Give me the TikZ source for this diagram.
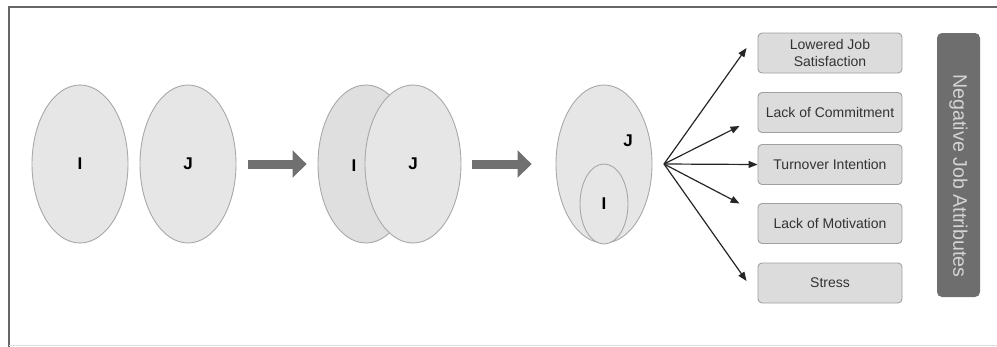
\documentclass[tikz,border=0pt]{standalone}
\usepackage{fontspec}
\setmainfont{Liberation Sans}
\usetikzlibrary{shapes.geometric,arrows.meta}
\definecolor{ellfill}{HTML}{E6E6E6}
\definecolor{ellfilldark}{HTML}{DFDFDF}
\definecolor{ellline}{HTML}{A8A8A8}
\definecolor{boxfill}{HTML}{DCDCDC}
\definecolor{boxline}{HTML}{A0A0A0}
\definecolor{fatgray}{HTML}{707070}
\definecolor{darkbar}{HTML}{6E6E6E}
\definecolor{bartext}{HTML}{D4D4D4}
\definecolor{frameline}{HTML}{666666}
\tikzset{
  bigell/.style={ellipse, draw=ellline, fill=ellfill, line width=0.9pt, minimum width=96pt, minimum height=158pt, inner sep=0pt, font=\fontsize{17}{20}\selectfont\bfseries},
  letter/.style={font=\fontsize{17}{20}\selectfont\bfseries, inner sep=0pt},
  attrbox/.style={rectangle, rounded corners=4pt, draw=boxline, fill=boxfill, line width=0.9pt, minimum width=144pt, minimum height=40pt, inner sep=1pt, align=center, text=black!80, font=\fontsize{14}{17.5}\selectfont},
  fatarrow/.style={draw=fatgray, line width=9pt, -{Triangle[length=14pt,width=27pt]}},
  fanarrow/.style={draw=black!85, line width=1.2pt, -{Triangle[length=9pt,width=7pt]}},
}
\begin{document}
\begin{tikzpicture}[x=1pt,y=-1pt]
\useasboundingbox (0,0) rectangle (997,346);
% frame
\draw[frameline, line width=1.4pt] (9,360) -- (9,7) -- (1010,7);
\draw[black!12, line width=0.8pt] (9,345) -- (1010,345);
% first pair
\node[bigell] (i1) at (80,164) {I};
\node[bigell] (j1) at (188,164) {J};
% second pair
\node[bigell, fill=ellfilldark] (i2) at (366,164) {};
\node[bigell] (j2) at (413,164) {J};
\node[letter] (i2lab) at (354,166) {I};
% third
\node[bigell] (j3) at (604,164) {};
\node[bigell, minimum width=48pt, minimum height=80pt] (i3) at (604,204) {I};
\node[letter] (j3lab) at (628,141) {J};
% fat arrows
\draw[fatarrow] ([xshift=12pt]j1.east) -- ([xshift=-11pt]i2.west);
\draw[fatarrow] ([xshift=11pt]j2.east) -- ([xshift=-24pt]j3.west);
% boxes
\node[attrbox] (b1) at (830,53) {Lowered Job\\Satisfaction};
\node[attrbox] (b2) at (830,112.5) {Lack of Commitment};
\node[attrbox] (b3) at (830,164.5) {Turnover Intention};
\node[attrbox] (b4) at (830,223.5) {Lack of Motivation};
\node[attrbox] (b5) at (830,283) {Stress};
% fan
\coordinate (fan) at (664,164);
\draw[fanarrow] (fan) -- ([xshift=-11pt,yshift=5pt]b1.west);
\draw[fanarrow] (fan) -- ([xshift=-18pt,yshift=-13.5pt]b2.west);
\draw[fanarrow] (fan) -- (b3.west);
\draw[fanarrow] (fan) -- ([xshift=-18pt,yshift=20pt]b4.west);
\draw[fanarrow] (fan) -- ([xshift=-11pt,yshift=2pt]b5.west);
% dark bar
\node[rectangle, rounded corners=5pt, fill=darkbar, minimum width=43pt, minimum height=264pt, inner sep=0pt] (bar) at (958.5,165) {};
\node[rotate=-90, text=bartext, font=\fontsize{19.6}{22}\selectfont, inner sep=0pt] (bartxt) at (958.5,176) {Negative Job Attributes};
\end{tikzpicture}
\end{document}
